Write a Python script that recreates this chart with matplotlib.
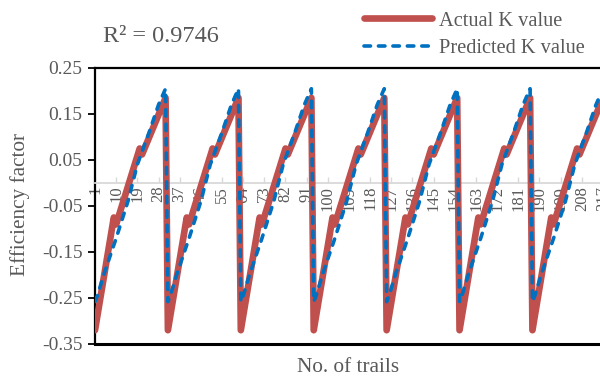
import numpy as np
import matplotlib
matplotlib.use('Agg')
import matplotlib.pyplot as plt

# one cycle of the test (k = trail offset inside a cycle)
cycle_starts = [1, 32, 63, 94, 125, 156, 187]
actual_k = [0, 8, 9, 19, 20, 30]
actual_vals = [-0.32, -0.075, -0.09, 0.075, 0.062, 0.185]
predicted_k = [0, 1, 4, 9, 14, 18, 23, 27, 30]
predicted_vals = [-0.258, -0.245, -0.195, -0.12, -0.04, 0.04, 0.11, 0.17, 0.205]

x_ticks = list(range(1, 218, 9))
y_ticks = [0.25, 0.15, 0.05, -0.05, -0.15, -0.25, -0.35]
r2_text = 'R² = 0.9746'

GREY = '#595959'
RED = '#C0504D'
BLUE = '#0070C0'


def build_series(starts, ks, vals):
    xs, ys = [], []
    for s in starts:
        for k, v in zip(ks, vals):
            xs.append(s + k)
            ys.append(v)
    return np.array(xs), np.array(ys)


def main():
    plt.rcParams['font.family'] = ['Liberation Serif', 'DejaVu Serif']

    fig = plt.figure(figsize=(6, 3.79), dpi=100)
    # plot area runs a few pixels past the right edge, like the cropped original
    ax = fig.add_axes([95 / 600, 35 / 379, 508 / 600, 276 / 379])

    xa, ya = build_series(cycle_starts, actual_k, actual_vals)
    xp, yp = build_series(cycle_starts, predicted_k, predicted_vals)

    ax.plot(xa, ya, color=RED, lw=4.8, solid_capstyle='round',
            solid_joinstyle='round', label='Actual K value', zorder=3)
    ax.plot(xp, yp, color=BLUE, lw=2.6, linestyle=(0, (1.8, 2.2)),
            dash_capstyle='round', label='Predicted K value', zorder=4)

    ax.set_xlim(1, 217)
    ax.set_ylim(-0.35, 0.25)
    ax.set_yticks(y_ticks)
    ax.set_yticklabels(['%.2f' % v for v in y_ticks])
    ax.tick_params(axis='y', direction='out', length=5, width=1.3, color='black',
                   labelcolor=GREY, labelsize=14, pad=4)

    # category axis crosses at y = 0, labels hang below it
    ax.spines['bottom'].set_position(('data', 0))
    ax.spines['bottom'].set_color('#D9D9D9')
    ax.spines['bottom'].set_linewidth(1.3)
    ax.set_xticks(x_ticks)
    ax.set_xticklabels([str(t) for t in x_ticks])
    ax.tick_params(axis='x', direction='in', length=4, width=1, color='#D9D9D9',
                   labelcolor=GREY, labelsize=12, labelrotation=90, pad=2)

    for side in ['top', 'left']:
        ax.spines[side].set_color('black')
        ax.spines[side].set_linewidth(1.6)
    ax.spines['right'].set_visible(False)
    # black border along the bottom of the plot area
    ax.axhline(-0.35, color='black', lw=2.2, clip_on=False, zorder=5)

    fig.text(20 / 600, 1 - 205 / 379, 'Efficiency factor', rotation=90,
             ha='center', va='center', color=GREY, fontsize=15.3)
    fig.text(348 / 600, 1 - 368 / 379, 'No. of trails',
             ha='center', va='center', color=GREY, fontsize=15.3)
    fig.text(103 / 600, 1 - 36 / 379, r2_text, ha='left', va='center',
             color=GREY, fontsize=17.5)

    leg = fig.legend(loc='upper left', bbox_to_anchor=(354 / 600, 1 - 1 / 379),
                     frameon=False, fontsize=14.7, handlelength=3.3,
                     handletextpad=0.35, labelspacing=0.4, borderpad=0)
    for t in leg.get_texts():
        t.set_color(GREY)

    fig.savefig('out.png', dpi=100)


if __name__ == "__main__":
    main()
